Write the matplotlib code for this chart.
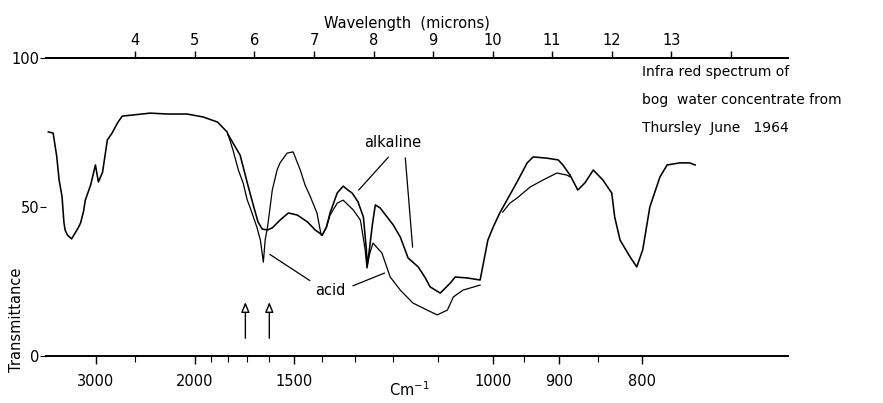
import matplotlib
matplotlib.use('Agg')
import matplotlib.pyplot as plt
import numpy as np

# wavelength (microns) and transmittance (%)
head_wl = [2.54, 2.62, 2.68, 2.72, 2.77, 2.80, 2.82, 2.86, 2.93, 2.99, 3.04, 3.08,
           3.13, 3.16, 3.25, 3.33, 3.38, 3.45, 3.53, 3.61, 3.70, 3.78, 3.97, 4.25,
           4.54, 4.87, 5.14, 5.38, 5.54, 5.56]
head_t = [75.2, 74.8, 67.0, 59.1, 53.4, 45.0, 42.3, 40.6, 39.3, 41.3, 43.0, 44.6,
          48.5, 52.3, 57.4, 64.1, 58.4, 61.7, 72.5, 74.8, 78.2, 80.5, 80.9, 81.5,
          81.2, 81.2, 80.2, 78.5, 75.2, 74.2]

acid_mid_wl = [5.56, 5.64, 5.73, 5.81, 5.88, 5.93, 6.04, 6.10, 6.15, 6.18, 6.22, 6.30,
               6.38, 6.43, 6.55, 6.65, 6.77, 6.85, 6.94, 7.05, 7.12, 7.14, 7.21, 7.27,
               7.39, 7.49, 7.66, 7.78, 7.86, 7.89, 7.93, 7.99, 8.14, 8.28, 8.45, 8.66,
               8.90, 9.07, 9.24, 9.34, 9.50, 9.79, np.nan, 10.17, 10.29, 10.41, 10.63,
               10.85, 11.08, 11.25, 11.30]
acid_mid_t = [74.2, 69.1, 62.4, 58.1, 52.3, 49.7, 43.3, 38.9, 31.5, 38.9, 43.3, 55.7,
              62.4, 64.8, 68.1, 68.5, 62.4, 57.4, 53.4, 48.0, 40.6, 40.6, 43.3, 47.3,
              51.3, 52.3, 49.0, 45.6, 35.6, 29.5, 33.9, 37.9, 34.6, 26.5, 22.1, 17.8,
              15.4, 13.8, 15.4, 19.8, 22.1, 23.8, np.nan, 48.3, 51.3, 53.0, 56.7,
              59.1, 61.4, 60.7, 60.1]

alk_mid_wl = [5.56, 5.64, 5.76, 5.88, 5.98, 6.06, 6.13, 6.22, 6.30, 6.43, 6.57, 6.72,
              6.89, 7.02, 7.14, 7.21, 7.27, 7.39, 7.49, 7.57, 7.64, 7.74, 7.83, 7.88,
              7.89, 7.93, 7.98, 8.03, 8.11, 8.23, 8.33, 8.45, 8.58, 8.75, 8.87, 8.95,
              9.12, 9.29, 9.37, 9.57, 9.79, 9.92, 10.01, 10.12, 10.24, 10.41, 10.58,
              10.68, 10.91, 11.10, 11.18, 11.30]
alk_mid_t = [74.2, 71.5, 67.4, 58.1, 50.7, 45.0, 42.6, 42.3, 43.0, 45.6, 48.0, 47.3,
             45.0, 42.3, 40.6, 43.3, 48.0, 54.7, 57.0, 55.7, 54.7, 51.7, 46.6, 35.6,
             29.9, 35.6, 44.0, 50.7, 49.7, 46.6, 44.0, 39.9, 32.9, 29.9, 26.2, 23.2,
             21.1, 24.5, 26.5, 26.2, 25.5, 38.9, 43.3, 48.0, 52.3, 58.4, 64.8,
             66.8, 66.4, 65.8, 64.1, 60.7]

tail_wl = [11.30, 11.43, 11.55, 11.69, 11.85, 12.00, 12.05, 12.14, 12.31, 12.42,
           12.52, 12.64, 12.81, 12.93, 13.14, 13.31, 13.40]
tail_t = [60.7, 55.7, 58.1, 62.4, 59.1, 54.7, 46.6, 38.9, 33.2, 29.9,
          35.6, 50.0, 60.1, 64.1, 64.8, 64.8, 64.1]

wn_major = [3000, 2000, 1500, 1000, 900, 800]
wn_minor = [2500, 1900, 1800, 1700, 1600, 1400, 1300, 1200, 1100, 950, 850]
wl_ticks = [4, 5, 6, 7, 8, 9, 10, 11, 12, 13, 14]
wl_labels = ['4', '5', '6', '7', '8', '9', '10', '11', '12', '13', '']
t_ticks = [0, 50, 100]
arrow_wn = [1710, 1600]

plt.rcParams['font.family'] = 'DejaVu Sans'
fig = plt.figure(figsize=(8.83, 4.03), dpi=100)
ax = fig.add_axes([46 / 883, 47 / 403, 742 / 883, 298 / 403])
ax.set_xlim(2.5, 14.96)
ax.set_ylim(0, 100)

for wl, t, lw in [(head_wl, head_t, 1.15), (acid_mid_wl, acid_mid_t, 0.9),
                  (alk_mid_wl, alk_mid_t, 1.15), (tail_wl, tail_t, 1.15)]:
    ax.plot(wl, t, color='black', lw=lw)

for s in ['left', 'right']:
    ax.spines[s].set_visible(False)
ax.spines['bottom'].set_linewidth(1.4)
ax.spines['top'].set_linewidth(1.4)

ax.set_xticks([1e4 / w for w in wn_major])
ax.set_xticklabels([str(w) for w in wn_major], fontsize=10.5)
ax.set_xticks([1e4 / w for w in wn_minor], minor=True)
ax.tick_params(axis='x', which='major', length=6, width=1.0, pad=7)
ax.tick_params(axis='x', which='minor', length=4, width=0.8)
ax.set_xlabel('Cm$^{-1}$', fontsize=10.5)
ax.xaxis.set_label_coords(0.49, -0.08)

ax.set_yticks(t_ticks)
ax.set_yticklabels([str(t) for t in t_ticks], fontsize=10.5)
ax.tick_params(axis='y', length=4, width=0.8, pad=1)
ax.set_ylabel('Transmittance', fontsize=10.5, labelpad=4)
ax.yaxis.set_label_coords(-0.03, 0.12)

top = ax.twiny()
top.set_xlim(ax.get_xlim())
top.set_xticks(wl_ticks)
top.set_xticklabels(wl_labels, fontsize=10.5)
top.tick_params(axis='x', length=5, width=1.0, pad=2)
for s in ['left', 'right', 'bottom']:
    top.spines[s].set_visible(False)
top.spines['top'].set_linewidth(1.4)
top.set_xlabel('Wavelength  (microns)', fontsize=10.5)
top.xaxis.set_label_coords(0.486, 1.10)

for w in arrow_wn:
    ax.annotate('', xy=(1e4 / w, 19), xytext=(1e4 / w, 5),
                arrowprops=dict(arrowstyle='-|>,head_length=0.6,head_width=0.25',
                                fc='white', ec='black', lw=1.0))

ax.text(8.33, 71.5, 'alkaline', fontsize=10.5, ha='center', va='center')
ax.annotate('', xy=(7.72, 55.0), xytext=(8.28, 67.4),
            arrowprops=dict(arrowstyle='-', lw=0.9))
ax.annotate('', xy=(8.66, 35.6), xytext=(8.53, 67.4),
            arrowprops=dict(arrowstyle='-', lw=0.9))

ax.text(7.27, 22.1, 'acid', fontsize=10.5, ha='center', va='center')
ax.annotate('', xy=(6.22, 34.6), xytext=(6.97, 24.8),
            arrowprops=dict(arrowstyle='-', lw=0.9))
ax.annotate('', xy=(8.23, 28.2), xytext=(7.61, 23.2),
            arrowprops=dict(arrowstyle='-', lw=0.9))

for txt, t in [('Infra red spectrum of', 95.3),
               ('bog  water concentrate from', 85.9),
               ('Thursley  June   1964', 76.5)]:
    ax.text(12.51, t, txt, fontsize=10, ha='left', va='center', clip_on=False)

fig.savefig('out.png', dpi=100)
